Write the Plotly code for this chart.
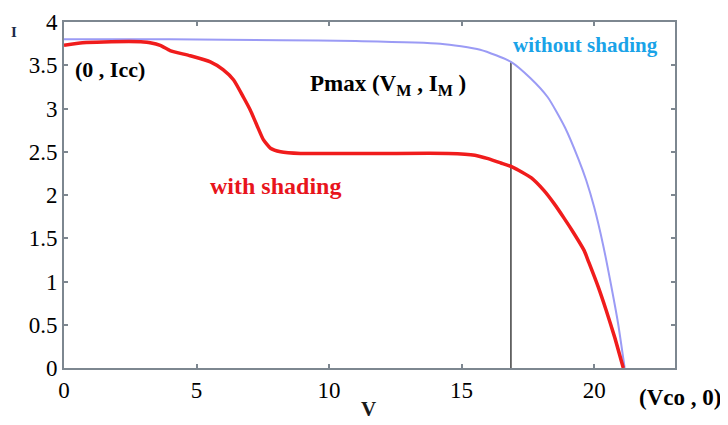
import plotly.graph_objects as go

# Without shading (blue)
v_noshade = [0, 4, 8.2, 11, 14.2, 15.7, 16.86, 17.6, 18.25, 18.9, 19.4, 19.7, 20.0, 20.34, 20.6, 20.9, 21.15]
i_noshade = [3.80, 3.80, 3.79, 3.78, 3.75, 3.68, 3.54, 3.35, 3.13, 2.78, 2.42, 2.17, 1.86, 1.42, 1.02, 0.52, 0.0]

# With shading (red)
v_shade = [0, 0.7, 1.5, 3.0, 3.25, 3.63, 4.0, 4.76, 5.52, 6.0, 6.4, 6.77, 7.03, 7.3, 7.52, 7.79, 8.17, 8.92,
           10, 12, 14.5, 15.5, 16.0, 16.48, 16.94, 17.62, 18.11, 18.49, 18.87, 19.21, 19.62, 19.8, 20.15,
           20.45, 20.77, 21.1]
i_shade = [3.73, 3.76, 3.77, 3.77, 3.76, 3.73, 3.67, 3.61, 3.54, 3.45, 3.33, 3.13, 2.98, 2.79, 2.64, 2.54, 2.50, 2.48,
           2.48, 2.48, 2.48, 2.46, 2.42, 2.37, 2.32, 2.20, 2.05, 1.90, 1.73, 1.57, 1.36, 1.22, 0.94,
           0.67, 0.36, 0.0]

# Maximum power point marker line
v_mpp = 16.86
i_mpp = 3.54

x_ticks = [0, 5, 10, 15, 20]
y_ticks = [0, 0.5, 1, 1.5, 2, 2.5, 3, 3.5, 4]
y_tick_labels = ["0", "0.5", "1", "1.5", "2", "2.5", "3", "3.5", "4"]

serif = "Liberation Serif, Times New Roman, serif"

fig = go.Figure()
fig.add_trace(go.Scatter(x=[v_mpp, v_mpp], y=[0, i_mpp], mode="lines",
                         line=dict(color="#404040", width=1.5), showlegend=False))
fig.add_trace(go.Scatter(x=v_noshade, y=i_noshade, mode="lines",
                         line=dict(color="#9b9bf5", width=2, shape="spline", smoothing=0.6), showlegend=False))
fig.add_trace(go.Scatter(x=v_shade, y=i_shade, mode="lines",
                         line=dict(color="#f01c1c", width=3.5, shape="spline", smoothing=0.5), showlegend=False))

axis_common = dict(showline=True, linecolor="#7d8790", linewidth=2, mirror="ticks",
                   ticks="inside", ticklen=4, tickcolor="#7d8790", tickwidth=1.5,
                   showgrid=False, zeroline=False,
                   tickfont=dict(family=serif, size=23, color="black"))

fig.update_xaxes(range=[0, 23.05], tickvals=x_ticks, **axis_common)
fig.update_yaxes(range=[0, 4], tickvals=y_ticks, ticktext=y_tick_labels, **axis_common)

# page has an 8px body margin: figure drawn at (8, 8)
OFF = 8
W, H = 728 - OFF, 425 - OFF
L, T, R, B = 64, 22, 728 - 675, 425 - 368
pw, ph = 728 - L - R, 425 - T - B

annots = [
    (14, 32, "<b>I</b>", "#1a2a4a", 15),
    (110, 69, "<b>(0 , Icc)</b>", "black", 22),
    (388, 85, "<b>Pmax (V<sub>M</sub> , I<sub>M</sub> )</b>", "black", 23),
    (585, 45, "<b>without shading</b>", "#1aa3e8", 21),
    (275, 186, "<b>with shading</b>", "#e8141c", 24),
    (680, 398, "<b>(Vco , 0)</b>", "black", 23),
    (368, 409, "<b>V</b>", "#1a1a1a", 21),
]
for sx, sy, text, color, size in annots:
    fig.add_annotation(x=(sx - L) / pw, y=1 - (sy - T) / ph, xref="paper", yref="paper",
                       text=text, showarrow=False, xanchor="center", yanchor="middle",
                       font=dict(family=serif, size=size, color=color))

fig.update_layout(width=W, height=H, margin=dict(l=L - OFF, r=R, t=T - OFF, b=B, autoexpand=False),
                  plot_bgcolor="white", paper_bgcolor="white")

fig.write_html("out.html")
